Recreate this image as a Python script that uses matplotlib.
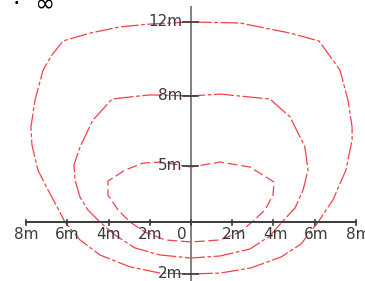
import numpy as np
import matplotlib
matplotlib.use('Agg')
import matplotlib.pyplot as plt

# coverage outlines, metres (x across, y forward)
outer_x = [0, -1.99, -3.45, -4.90, -6.21, -6.75, -7.18, -7.57, -7.77, -7.72, -7.43, -6.94, -6.55, -6.12,
           -5.39, -4.42, -2.96, -1.50, 0, 1.41, 2.91, 4.37, 5.34, 6.17, 6.89, 7.52, 7.82, 7.82, 7.62,
           7.23, 6.21, 4.81, 2.38, 0]
outer_y = [9.71, 9.61, 9.47, 9.17, 8.79, 8.11, 7.38, 5.92, 4.61, 3.74, 2.52, 1.55, 0.83, 0,
           -0.87, -1.60, -2.18, -2.48, -2.52, -2.48, -2.23, -1.70, -1.07, 0, 1.07, 2.52, 3.98, 4.61, 5.92,
           7.38, 8.79, 9.17, 9.66, 9.71]

middle_x = [0, -1.99, -2.96, -3.83, -4.76, -5.39, -5.68, -5.63, -5.39, -5.00, -4.42, -3.69, -2.72, -1.50,
            0, 1.41, 2.86, 3.83, 4.42, 5.05, 5.44, 5.68, 5.53, 4.81, 3.83, 1.41, 0]
middle_y = [6.12, 6.17, 6.07, 5.97, 4.95, 3.64, 2.77, 2.04, 1.21, 0.58, 0, -0.63, -1.26, -1.60,
            -1.75, -1.65, -1.31, -0.68, 0, 0.68, 1.55, 2.52, 3.64, 5.10, 5.97, 6.21, 6.12]

inner_x = [0, -1.50, -2.33, -3.20, -4.03, -4.03, -3.54, -2.96, -2.23, -1.26, 0, 1.41, 2.38, 2.96,
           3.59, 3.98, 4.03, 2.86, 1.41, 0]
inner_y = [2.67, 2.91, 2.86, 2.52, 1.99, 1.31, 0.58, 0, -0.49, -0.87, -0.97, -0.87, -0.49, 0,
           0.58, 1.31, 1.94, 2.67, 2.91, 2.67]

x_ticks = [-8, -6, -4, -2, 0, 2, 4, 6, 8]
x_labels = ['8m', '6m', '4m', '2m', '0', '2m', '4m', '6m', '8m']
y_ticks = [9.71, 6.12, 2.72, -2.52]
y_labels = ['12m', '8m', '5m', '2m']

red = '#f0424a'
ink = '#3a3a3a'

fig = plt.figure(figsize=(3.65, 2.81), dpi=100)
ax = fig.add_axes([0, 0, 1, 1])
ax.set_xlim(-191 / 20.6, 174 / 20.6)
ax.set_ylim(-59 / 20.6, 222 / 20.6)
ax.axis('off')

ax.plot(outer_x, outer_y, color=red, lw=0.9, dashes=(14, 2, 3, 2))
ax.plot(middle_x, middle_y, color=red, lw=0.9, dashes=(16, 2, 3, 2))
ax.plot(inner_x, inner_y, color=red, lw=0.9, dashes=(8, 3))

# axes
ax.plot([-8, 8], [0, 0], color=ink, lw=1.4)
ax.plot([0, 0], [10.44, -3], color='#808080', lw=1.4)
for t, lab in zip(x_ticks, x_labels):
    ax.plot([t, t], [0.12, -0.14], color=ink, lw=1.2)
    dx = -0.45 if lab == '0' else (0.1 if t > 0 else 0)
    ax.text(t + dx, -0.6, lab, ha='center', va='center', fontsize=11,
            color=ink, family='DejaVu Sans')
for t, lab in zip(y_ticks, y_labels):
    ax.plot([-0.4, 0.34], [t, t], color=ink, lw=1.2)
    ax.text(-0.4, t, lab, ha='right', va='center', fontsize=11,
            color=ink, family='DejaVu Sans')

ax.text(13 / 20.6 - 191 / 20.6, (222 - 11) / 20.6, '·  ∞', ha='left', va='baseline',
        fontsize=17, color='black')

fig.savefig('out.png', dpi=100)
